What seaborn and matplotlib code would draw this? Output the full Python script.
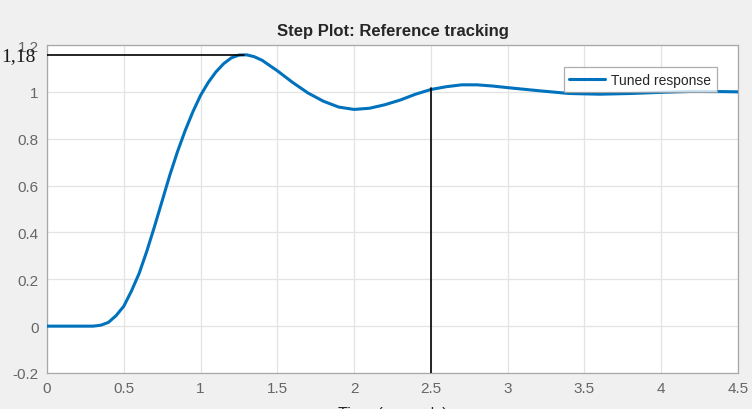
import matplotlib
matplotlib.use("Agg")
import matplotlib.pyplot as plt
import seaborn as sns
import pandas as pd

# ---- data ----
time_s = [0, 0.1, 0.2, 0.3, 0.35, 0.4, 0.45, 0.5, 0.55, 0.6, 0.65, 0.7, 0.75,
          0.8, 0.85, 0.9, 0.95, 1.0, 1.05, 1.1, 1.15, 1.2, 1.25, 1.3, 1.35,
          1.4, 1.5, 1.6, 1.7, 1.8, 1.9, 2.0, 2.1, 2.2, 2.3, 2.4, 2.5, 2.6,
          2.7, 2.8, 2.9, 3.0, 3.2, 3.4, 3.6, 3.8, 4.0, 4.2, 4.4, 4.5]
response = [0, 0, 0, 0, 0.004, 0.016, 0.045, 0.085, 0.15, 0.225, 0.32, 0.425,
            0.535, 0.645, 0.745, 0.835, 0.915, 0.985, 1.04, 1.085, 1.12, 1.145,
            1.157, 1.158, 1.15, 1.135, 1.09, 1.04, 0.995, 0.96, 0.935, 0.925,
            0.93, 0.945, 0.965, 0.99, 1.01, 1.022, 1.03, 1.03, 1.025, 1.018,
            1.005, 0.993, 0.99, 0.993, 0.998, 1.002, 1.001, 1.0]
series_label = "Tuned response"
peak_time = 1.28
peak_value = 1.158
marker_time = 2.5
marker_value = 1.015
peak_text = "1,18"
x_ticks = [0, 0.5, 1, 1.5, 2, 2.5, 3, 3.5, 4, 4.5]
x_tick_labels = ["0", "0.5", "1", "1.5", "2", "2.5", "3", "3.5", "4", "4.5"]
y_ticks = [-0.2, 0, 0.2, 0.4, 0.6, 0.8, 1, 1.2]
y_tick_labels = ["-0.2", "0", "0.2", "0.4", "0.6", "0.8", "1", "1.2"]
title = "Step Plot: Reference tracking"
x_label = "Time (seconds)"

df = pd.DataFrame({"t": time_s, "y": response})

sns.set_style("white")
plt.rcParams["font.family"] = ["Liberation Sans", "DejaVu Sans"]

fig = plt.figure(figsize=(7.52, 4.10), dpi=100, facecolor="#f0f0f0")
ax = fig.add_axes([47 / 752, 1 - 374 / 410, (738 - 47) / 752, (374 - 46) / 410])
ax.set_facecolor("white")

sns.lineplot(data=df, x="t", y="y", ax=ax, color="#0072BD", linewidth=2.2,
             label=series_label, zorder=3)

# annotation lines
ax.plot([0, peak_time], [peak_value, peak_value], color="black", lw=1.2, zorder=4)
ax.plot([marker_time, marker_time], [-0.2, marker_value], color="black", lw=1.2, zorder=4)

ax.set_xlim(0, 4.5)
ax.set_ylim(-0.2, 1.2)
ax.set_xticks(x_ticks)
ax.set_xticklabels(x_tick_labels)
ax.set_yticks(y_ticks)
ax.set_yticklabels(y_tick_labels)
ax.grid(True, color="#e3e3e3", lw=0.9)
ax.tick_params(direction="in", length=4, color="#999999", labelcolor="#666666",
               labelsize=11, pad=6)
for s in ax.spines.values():
    s.set_color("#a8a8a8")
    s.set_linewidth(0.9)

ax.set_title(title, fontsize=12, fontweight="bold", color="#262626", pad=7)
ax.set_xlabel(x_label, fontsize=11.5, color="#262626", labelpad=8)
ax.set_ylabel("")

leg = ax.legend(loc="upper right", bbox_to_anchor=(0.979, 0.953), fontsize=10,
                frameon=True, fancybox=False, handlelength=2.6, borderpad=0.4,
                handletextpad=0.4)
leg.get_frame().set_edgecolor("#9a9a9a")
leg.get_frame().set_linewidth(0.9)
for txt in leg.get_texts():
    txt.set_color("#262626")

fig.text(1 / 752, 1 - 57 / 410, peak_text, family=["Liberation Serif", "DejaVu Serif"],
         fontsize=14, color="#1a1a1a", ha="left", va="center")

fig.savefig("out.png", dpi=100, facecolor=fig.get_facecolor())
